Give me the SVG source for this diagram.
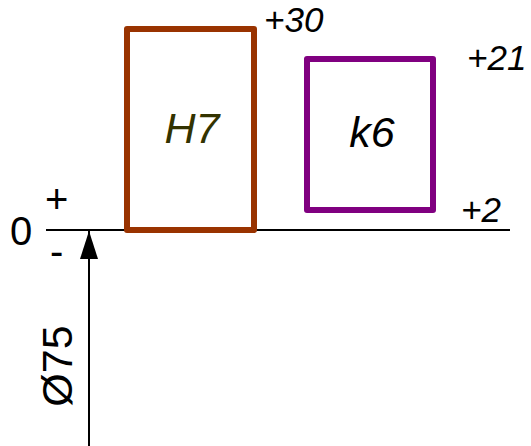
<svg xmlns="http://www.w3.org/2000/svg" width="531" height="446" viewBox="0 0 531 446">
<defs>
<style>
text{font-family:"Liberation Sans",Arial,sans-serif;fill:#000}
.it{font-style:italic}
.box{fill:#fff;stroke-width:6;stroke-linejoin:round}
.ln{stroke:#000;stroke-width:2;fill:none}
</style>
<marker id="ah" markerUnits="userSpaceOnUse" markerWidth="30" markerHeight="20" refX="28" refY="9" orient="auto">
<path d="M0,0 L28,9 L0,18 Z" fill="#000"/>
</marker>
</defs>
<rect width="531" height="446" fill="#fff"/>
<g id="connectors">
<line class="ln" x1="46" y1="230" x2="510" y2="230"/>
<line class="ln" x1="89" y1="446" x2="89" y2="231" marker-end="url(#ah)"/>
</g>
<g id="H7">
<rect class="box" x="127" y="29" width="127" height="201" stroke="#993300"/>
<text class="it" x="192" y="143" font-size="43" text-anchor="middle" style="fill:#333300">H7</text>
<text class="it" x="264" y="32" font-size="35">+30</text>
</g>
<g id="k6">
<rect class="box" x="307" y="59" width="126" height="151" stroke="#800080"/>
<text class="it" x="372" y="147" font-size="43" text-anchor="middle">k6</text>
<text class="it" x="467" y="70" font-size="35">+21</text>
<text class="it" x="461" y="222" font-size="35">+2</text>
</g>
<g id="labels">
<text x="10" y="245" font-size="40">0</text>
<text x="45" y="213" font-size="40">+</text>
<text x="50" y="265" font-size="40">-</text>
<text transform="translate(72,366) rotate(-90)" font-size="43" text-anchor="middle">Ø75</text>
</g>
</svg>
